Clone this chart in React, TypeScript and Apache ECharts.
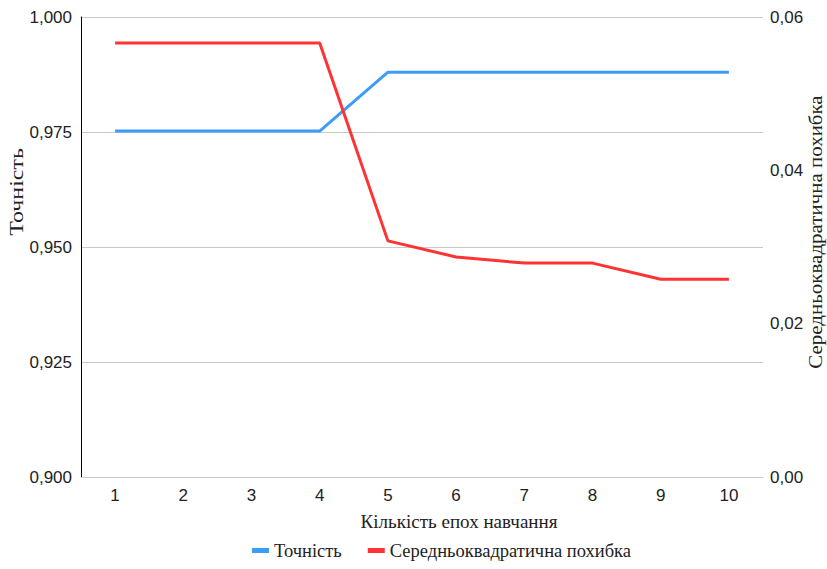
import React, { useEffect, useRef } from "react";
import * as echarts from "echarts";

const epochs = ["1", "2", "3", "4", "5", "6", "7", "8", "9", "10"];
const accuracy = [0.9752, 0.9752, 0.9752, 0.9752, 0.988, 0.988, 0.988, 0.988, 0.988, 0.988];
const mse = [0.0566, 0.0566, 0.0566, 0.0566, 0.0308, 0.0287, 0.0279, 0.0279, 0.0258, 0.0258];

const accName = "Точність";
const mseName = "Середньоквадратична похибка";
const xName = "Кількість епох навчання";

const SANS = "'Liberation Sans', Arial, sans-serif";
const SERIF = "'Liberation Serif', 'Times New Roman', serif";

export default function App() {
  const ref = useRef<HTMLDivElement>(null);

  useEffect(() => {
    if (!ref.current) return;
    const chart = echarts.init(ref.current, undefined, { renderer: "svg" });
    chart.setOption({
      animation: false,
      backgroundColor: "#ffffff",
      grid: { left: 81, right: 64, top: 17, bottom: 92, containLabel: false },
      legend: {
        bottom: 4,
        left: 247,
        icon: "rect",
        itemWidth: 17,
        itemHeight: 5,
        itemGap: 26,
        itemStyle: { borderWidth: 0 },
        textStyle: { fontFamily: SERIF, fontSize: 18.5, color: "#222" },
        data: [accName, mseName],
      },
      xAxis: {
        type: "category",
        data: epochs,
        boundaryGap: true,
        axisLine: { show: true, lineStyle: { color: "#c8c8c8", width: 1 } },
        axisTick: { show: false },
        axisLabel: { fontFamily: SANS, fontSize: 17, color: "#222", margin: 10 },
      },
      yAxis: [
        {
          type: "value",
          min: 0.9,
          max: 1.0,
          interval: 0.025,
          axisLine: { show: true, lineStyle: { color: "#000", width: 1 } },
          axisTick: { show: false },
          splitLine: { show: true, lineStyle: { color: "#c8c8c8", width: 1 } },
          axisLabel: {
            fontFamily: SANS,
            fontSize: 17,
            color: "#222",
            margin: 9,
            formatter: (v: number) => v.toFixed(3).replace(".", ","),
          },
        },
        {
          type: "value",
          min: 0,
          max: 0.06,
          interval: 0.02,
          position: "right",
          axisLine: { show: false },
          axisTick: { show: false },
          splitLine: { show: false },
          axisLabel: {
            fontFamily: SANS,
            fontSize: 17,
            color: "#222",
            margin: 7,
            formatter: (v: number) => v.toFixed(2).replace(".", ","),
          },
        },
      ],
      series: [
        {
          name: accName,
          type: "line",
          data: accuracy,
          yAxisIndex: 0,
          symbol: "none",
          lineStyle: { color: "#3d9cf5", width: 3 },
          itemStyle: { color: "#3d9cf5" },
        },
        {
          name: mseName,
          type: "line",
          data: mse,
          yAxisIndex: 1,
          symbol: "none",
          lineStyle: { color: "#ff3333", width: 3 },
          itemStyle: { color: "#ff3333" },
        },
      ],
      graphic: [
        {
          type: "text",
          x: 17,
          y: 192,
          rotation: Math.PI / 2,
          scaleX: 1.33,
          style: {
            text: accName,
            fontFamily: SERIF,
            fontSize: 18,
            fill: "#222",
            align: "center",
            verticalAlign: "middle",
          },
        },
        {
          type: "text",
          x: 816,
          y: 232,
          rotation: Math.PI / 2,
          scaleX: 1.165,
          style: {
            text: mseName,
            fontFamily: SERIF,
            fontSize: 18,
            fill: "#222",
            align: "center",
            verticalAlign: "middle",
          },
        },
        {
          type: "text",
          x: 459,
          y: 522,
          scaleX: 1.03,
          style: {
            text: xName,
            fontFamily: SERIF,
            fontSize: 18.5,
            fill: "#222",
            align: "center",
            verticalAlign: "middle",
          },
        },
      ],
    });
    return () => chart.dispose();
  }, []);

  return (
    <div
      ref={ref}
      style={{ position: "absolute", left: 0, top: 0, width: 827, height: 569 }}
    />
  );
}
